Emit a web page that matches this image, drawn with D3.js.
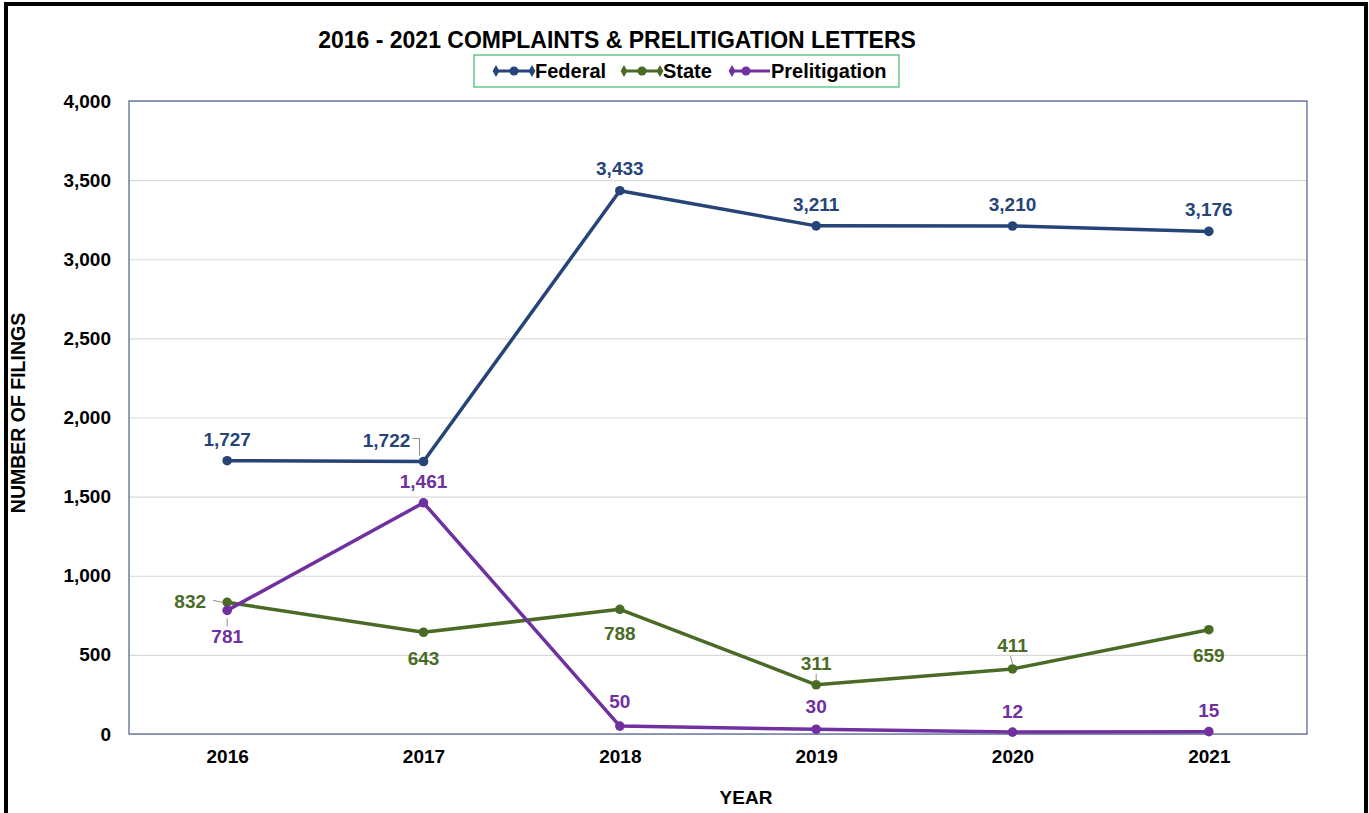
<!DOCTYPE html>
<html>
<head>
<meta charset="utf-8">
<script src="https://cdn.jsdelivr.net/npm/d3@7"></script>
<style>
  body { margin: 0; background: #fff; }
  text { font-family: Arial, "Liberation Sans", sans-serif; font-weight: bold; }
</style>
</head>
<body>
<div id="chart"></div>
<script>
var years = ["2016", "2017", "2018", "2019", "2020", "2021"];
var federal = [1727, 1722, 3433, 3211, 3210, 3176];
var state = [832, 643, 788, 311, 411, 659];
var prelitigation = [781, 1461, 50, 30, 12, 15];
var yTicks = [0, 500, 1000, 1500, 2000, 2500, 3000, 3500, 4000];

// label placement per point: dx, dy relative to the point
var fedLabels = [[0, -15], [-37, -14], [0, -16], [0, -15], [0, -15], [0, -15]];
var stateLabels = [[-37, 6], [0, 33], [0, 31], [0, -15], [0, -17], [0, 32]];
var preLabels = [[0, 33], [0, -15], [0, -18], [0, -16], [0, -14], [0, -15]];

var series = [
  {name: "Federal", values: federal, color: "#264478", labels: fedLabels},
  {name: "State", values: state, color: "#4A6B26", labels: stateLabels},
  {name: "Prelitigation", values: prelitigation, color: "#7030A0", labels: preLabels}
];

var W = 1369, H = 813;
var margin = {top: 101, right: 62, bottom: 79, left: 129},
    width = W - margin.left - margin.right,
    height = H - margin.top - margin.bottom;

var root = d3.select("#chart").append("svg")
  .attr("width", W)
  .attr("height", H);

// outer frame
root.append("rect")
  .attr("x", 6).attr("y", 4)
  .attr("width", 1360).attr("height", 830)
  .attr("fill", "none")
  .attr("stroke", "#000")
  .attr("stroke-width", 4);

var svg = root.append("g")
  .attr("transform", "translate(" + margin.left + "," + margin.top + ")");

var x = d3.scalePoint()
  .domain(years)
  .range([0, width])
  .padding(0.5);

var y = d3.scaleLinear()
  .domain([0, 4000])
  .range([height, 0]);

// gridlines
svg.append("g")
  .call(d3.axisLeft(y).tickValues(yTicks).tickSize(-width).tickFormat(""))
  .call(g => g.select(".domain").remove())
  .selectAll("line")
    .attr("stroke", "#d9d9d9")
    .attr("stroke-width", 1.2);

// plot border
svg.append("rect")
  .attr("width", width)
  .attr("height", height)
  .attr("fill", "none")
  .attr("stroke", "#4A5E8C")
  .attr("stroke-width", 1.2);

// Y axis labels
svg.append("g")
  .call(d3.axisLeft(y).tickValues(yTicks).tickSize(0).tickPadding(18).tickFormat(d3.format(",")))
  .call(g => g.select(".domain").remove())
  .selectAll("text")
    .style("font-size", "19px")
    .style("fill", "#000");

// X axis labels
svg.append("g")
  .attr("transform", "translate(0," + height + ")")
  .call(d3.axisBottom(x).tickSize(0).tickPadding(16))
  .call(g => g.select(".domain").remove())
  .selectAll("text")
    .style("font-size", "19px")
    .style("fill", "#000");

// axis titles
root.append("text")
  .attr("x", 746).attr("y", 804)
  .attr("text-anchor", "middle")
  .style("font-size", "19px")
  .text("YEAR");

root.append("text")
  .attr("transform", "translate(25,413) rotate(-90)")
  .attr("text-anchor", "middle")
  .style("font-size", "19.5px")
  .text("NUMBER OF FILINGS");

// title
root.append("text")
  .attr("x", 617).attr("y", 48)
  .attr("text-anchor", "middle")
  .style("font-size", "23px")
  .text("2016 - 2021 COMPLAINTS & PRELITIGATION LETTERS");

// legend
var legend = root.append("g");
legend.append("rect")
  .attr("x", 474).attr("y", 55)
  .attr("width", 425).attr("height", 32)
  .attr("fill", "#fff")
  .attr("stroke", "#3DBB6B")
  .attr("stroke-width", 1.2);

var legendX = [494, 622, 730];
series.forEach(function(s, i) {
  var lx = legendX[i], ly = 71;
  var g = legend.append("g");
  g.append("line")
    .attr("x1", lx).attr("x2", lx + 40)
    .attr("y1", ly).attr("y2", ly)
    .attr("stroke", s.color).attr("stroke-width", 3);
  var ends = i < 2 ? [lx + 2, lx + 38] : [lx + 2];
  ends.forEach(function(ex) {
    g.append("path")
      .attr("d", d3.symbol().type(d3.symbolDiamond).size(40)())
      .attr("transform", "translate(" + ex + "," + ly + ")")
      .attr("fill", s.color);
  });
  g.append("circle")
    .attr("cx", lx + (i < 2 ? 20 : 16)).attr("cy", ly).attr("r", 4.5)
    .attr("fill", s.color);
  g.append("text")
    .attr("x", lx + 41).attr("y", ly + 7)
    .style("font-size", "20px")
    .style("fill", "#000")
    .text(s.name);
});

// lines, markers, labels
var line = d3.line()
  .x((d, i) => x(years[i]))
  .y(d => y(d));

series.forEach(function(s) {
  svg.append("path")
    .datum(s.values)
    .attr("fill", "none")
    .attr("stroke", s.color)
    .attr("stroke-width", 3.5)
    .attr("stroke-linejoin", "round")
    .attr("d", line);

  svg.selectAll(null)
    .data(s.values)
    .enter().append("circle")
    .attr("cx", (d, i) => x(years[i]))
    .attr("cy", d => y(d))
    .attr("r", 4.8)
    .attr("fill", s.color);

  svg.selectAll(null)
    .data(s.values)
    .enter().append("text")
    .attr("x", (d, i) => x(years[i]) + s.labels[i][0])
    .attr("y", (d, i) => y(d) + s.labels[i][1])
    .attr("text-anchor", "middle")
    .style("font-size", "19px")
    .style("fill", s.color)
    .text(d => d3.format(",")(d));
});

// leader lines for labels moved off their points
var leaders = [
  {s: 0, i: 1, pts: [[-11, -23], [-4, -23], [-4, -6]]},
  {s: 1, i: 0, pts: [[-14, -2], [-5, 0]]},
  {s: 2, i: 0, pts: [[0, 16], [0, 8]]},
  {s: 1, i: 3, pts: [[0, -11], [0, -4]]},
  {s: 1, i: 4, pts: [[-2, -13], [0, -5]]}
];
leaders.forEach(function(l) {
  var px = x(years[l.i]), py = y(series[l.s].values[l.i]);
  svg.append("polyline")
    .attr("points", l.pts.map(p => (px + p[0]) + "," + (py + p[1])).join(" "))
    .attr("fill", "none")
    .attr("stroke", "#8c8c8c")
    .attr("stroke-width", 1);
});
</script>
</body>
</html>
